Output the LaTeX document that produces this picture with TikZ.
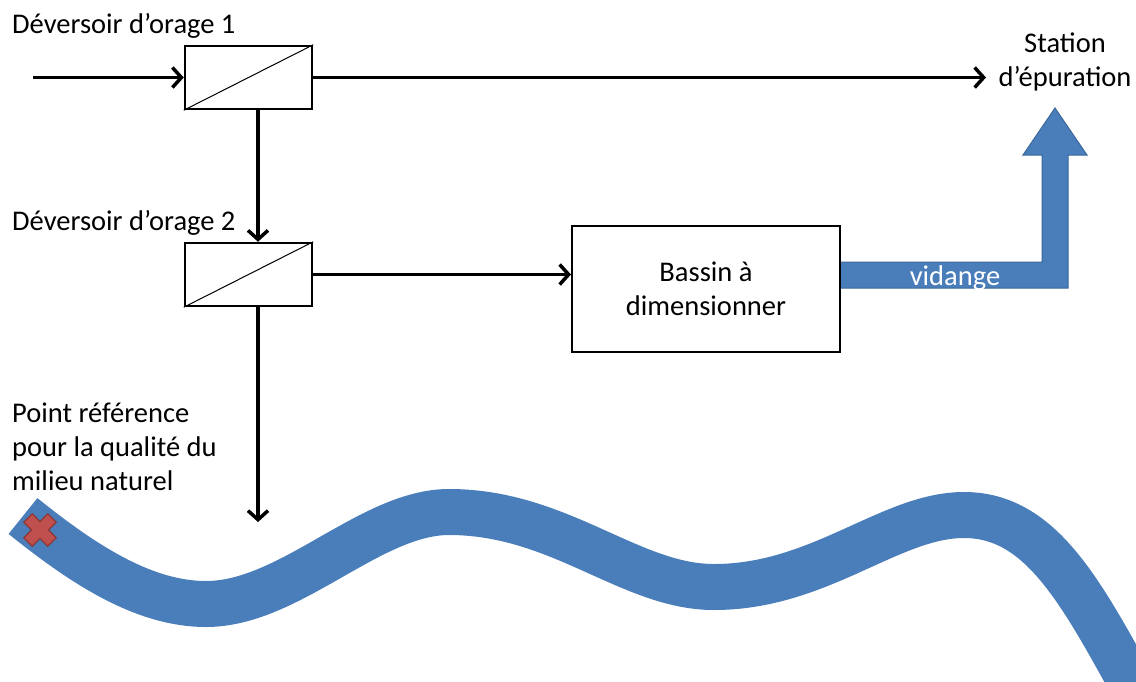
\documentclass[tikz,border=0pt]{standalone}
\usepackage{fontspec}
\setmainfont{Carlito}
\usetikzlibrary{arrows.meta,calc}
\definecolor{riverblue}{HTML}{4A7EBB}
\definecolor{riveredge}{HTML}{3B679A}
\definecolor{crossred}{HTML}{C0504D}
\definecolor{crossedge}{HTML}{8C3836}
\begin{document}
\begin{tikzpicture}[x=1pt,y=-1pt,
  txt/.style={font=\fontsize{28.5}{34}\selectfont,inner sep=0pt},
  conn/.style={line width=3.5pt,-{Straight Barb[length=9pt,width=20pt,line width=3.5pt]}},
  dbox/.style={draw,line width=2.5pt,minimum width=127pt,minimum height=63pt,inner sep=0pt},
  bbox/.style={draw,line width=2pt,minimum width=268pt,minimum height=126pt,inner sep=0pt,align=center,txt}]
\useasboundingbox (0,0) rectangle (1136,681);
% river
\begin{scope}
\clip (0,0) rectangle (1136,681);
\draw[riverblue,line width=46pt,line cap=butt] (23,516) .. controls (85,566) and (145,604) .. (206,604)
  .. controls (290,604) and (370,512) .. (449,512)
  .. controls (560,512) and (630,587) .. (714,587)
  .. controls (820,587) and (890,515) .. (964,515)
  .. controls (1040,515) and (1080,590) .. (1135,690);
\end{scope}
% cross
\draw[fill=crossred,draw=crossedge,line width=1.2pt,rotate around={45:(40,530)}]
  (34,513) -- (46,513) -- (46,524) -- (57,524) -- (57,536) -- (46,536) -- (46,547) -- (34,547) -- (34,536) -- (23,536) -- (23,524) -- (34,524) -- cycle;
% vidange arrow
\draw[fill=riverblue,draw=riveredge,line width=1pt] (840,262) -- (1042,262) -- (1042,155) -- (1023,155) -- (1055,108) -- (1087,155) -- (1068,155) -- (1068,288) -- (840,288) -- cycle;
\node[txt,white,anchor=base] (vid) at (955,285) {vidange};
% boxes
\node[dbox] (box1) at (248.5,77.5) {};
\node[dbox] (box2) at (248.5,274.5) {};
\draw[line width=1pt] (box1.south west) -- (box1.north east);
\draw[line width=1pt] (box2.south west) -- (box2.north east);
\node[bbox] (bassin) at (706,289) {Bassin à\\dimensionner};
% labels
\node[txt,anchor=base west] (l1) at (12,33) {Déversoir d’orage 1};
\node[txt,anchor=base west] (l2) at (12,230) {Déversoir d’orage 2};
\node[txt,anchor=base west,align=left] (l3) at (12,490) {Point référence\\pour la qualité du\\milieu naturel};
\node[txt,anchor=base,align=center] (st) at (1065,86) {Station\\d’épuration};
% connectors
\coordinate (in) at (33,77.5);
\coordinate (stin) at (986,77.5);
\coordinate (vx) at (258,0);
\coordinate (out) at (258,522);
\draw[conn] (in) -- (box1.west);
\draw[conn] (box1.east) -- (stin);
\draw[conn] (box1.south -| vx) -- (box2.north -| vx);
\draw[conn] (box2.east) -- (bassin.west |- box2.east);
\draw[conn] (box2.south -| vx) -- (out);
\end{tikzpicture}
\end{document}
